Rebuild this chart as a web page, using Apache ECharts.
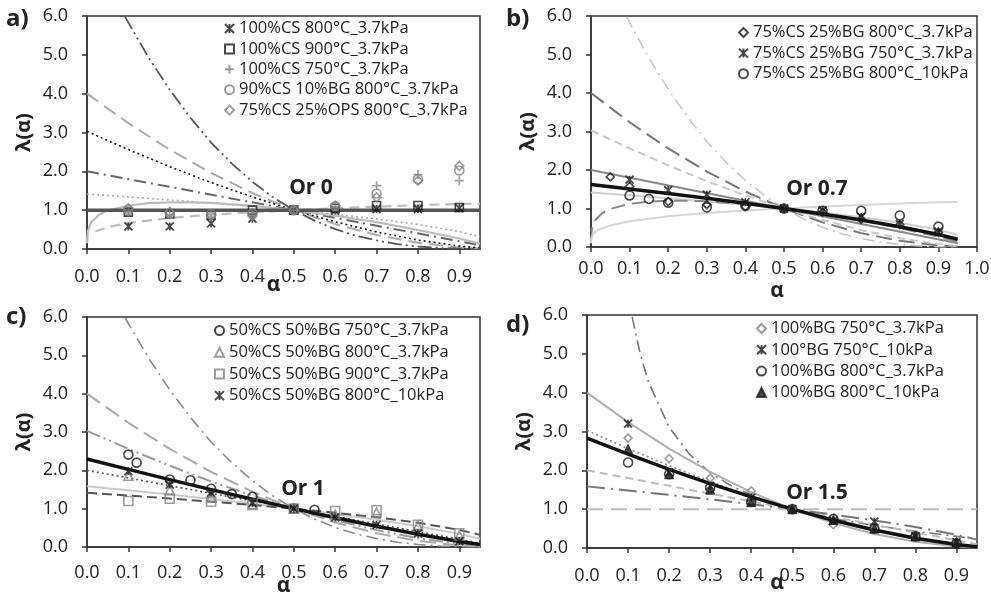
<!DOCTYPE html>
<html><head><meta charset="utf-8">
<script src="https://cdn.jsdelivr.net/npm/echarts@6/dist/echarts.min.js"></script>
<style>html,body{margin:0;padding:0;background:#fff}#c{width:991px;height:595px}</style>
</head><body><div id="c"></div><script>
// ---------- model master-plot curves ----------
const STD_X = [0,0.1,0.2,0.3,0.4,0.5,0.6,0.7,0.8,0.9,0.95];
const F3_X = [0.092,0.1,0.15,0.2,0.25,0.3,0.35,0.4,0.45,0.5,0.55,0.6,0.65,0.7,0.75,0.8,0.85,0.9,0.95];
const F3_Y = [5.98,5.83,4.91,4.1,3.38,2.74,2.2,1.73,1.33,1.0,0.73,0.51,0.34,0.22,0.125,0.064,0.027,0.008,0.001];
const D2_X = [0.11,0.13,0.15,0.2,0.25,0.3,0.35,0.4,0.45,0.5,0.6,0.7,0.8,0.9,0.95];
const D2_Y = [5.95,4.98,4.27,3.11,2.41,1.94,1.61,1.36,1.16,1.0,0.76,0.58,0.43,0.30,0.23];
const F2_Y  = [4,3.24,2.56,1.96,1.44,1,0.64,0.36,0.16,0.04,0.01];
const F16_Y = [3.03,2.56,2.12,1.71,1.34,1.0,0.70,0.44,0.23,0.076,0.025];
const F1_X = [0,0.5,0.95];
const F1_Y = [2,1,0.1];
const R2_Y  = [1.414,1.342,1.265,1.183,1.095,1,0.894,0.775,0.632,0.447,0.316];
const R3_Y  = [1.587,1.48,1.368,1.253,1.129,1,0.862,0.711,0.543,0.342,0.215];
const F07_Y = [1.625,1.509,1.39,1.266,1.136,1,0.855,0.699,0.527,0.324,0.2];
const F12_Y = [2.297,2.025,1.758,1.497,1.244,1,0.765,0.542,0.333,0.145,0.063];
const F15_Y = [2.828,2.415,2.024,1.657,1.315,1,0.716,0.465,0.253,0.089,0.032];
const OR0_X = [0,0.95];
const OR0_Y = [1,1];
const AV_X = [0,0.002,0.01,0.03,0.05,0.1,0.15,0.2,0.25,0.3,0.4,0.5,0.6,0.7,0.8,0.9,0.95];
const AV_Y = [0.15,0.46,0.69,0.89,0.99,1.12,1.18,1.2,1.2,1.19,1.11,1.0,0.86,0.69,0.49,0.27,0.14];
const PW_X = [0,0.001,0.005,0.01,0.02,0.05,0.1,0.2,0.3,0.4,0.5,0.6,0.7,0.8,0.9,0.95];
const PW_Y = [0.1,0.21,0.32,0.38,0.45,0.56,0.67,0.8,0.88,0.95,1,1.05,1.09,1.13,1.16,1.17];

// ---------- experimental points ----------
const ALPHA9 = [0.1,0.2,0.3,0.4,0.5,0.6,0.7,0.8,0.9];
// panel a
const A_NAMES = ['100%CS 800°C_3.7kPa','100%CS 900°C_3.7kPa','100%CS 750°C_3.7kPa','90%CS 10%BG 800°C_3.7kPa','75%CS 25%OPS 800°C_3.7kPa'];
const A_CS800 = [0.58,0.58,0.66,0.78,1.0,0.99,1.03,1.03,1.05];
const A_CS900 = [0.95,0.9,0.87,1.0,1.0,1.05,1.12,1.12,1.07];
const A_CS750 = [0.95,0.88,0.82,0.85,1.0,1.1,1.63,1.92,1.76];
const A_BG10  = [1.0,0.93,0.9,0.92,1.0,1.1,1.43,1.8,2.02];
const A_OPS25 = [1.05,0.95,0.86,0.85,1.0,1.12,1.33,1.76,2.14];
// panel b
const B_NAMES = ['75%CS 25%BG 800°C_3.7kPa','75%CS 25%BG 750°C_3.7kPa','75%CS 25%BG 800°C_10kPa'];
const B_X1 = [0.05,0.1,0.2,0.3,0.4,0.5,0.6,0.7,0.8,0.9];
const B_Y1 = [1.82,1.57,1.18,1.1,1.05,1.0,0.9,0.72,0.58,0.38];
const B_Y2 = [1.75,1.48,1.36,1.16,1.0,0.95,0.78,0.6,0.4];
const B_X3 = [0.1,0.15,0.2,0.3,0.4,0.5,0.6,0.7,0.8,0.9];
const B_Y3 = [1.34,1.25,1.15,1.03,1.07,1.0,0.94,0.94,0.82,0.53];
// panel c
const C_NAMES = ['50%CS 50%BG 750°C_3.7kPa','50%CS 50%BG 800°C_3.7kPa','50%CS 50%BG 900°C_3.7kPa','50%CS 50%BG 800°C_10kPa'];
const C_X1 = [0.1,0.12,0.2,0.25,0.3,0.35,0.4,0.5,0.55];
const C_Y1 = [2.41,2.2,1.76,1.74,1.52,1.38,1.31,1.0,0.97];
const C_Y2 = [1.86,1.48,1.3,1.1,1.0,0.85,0.9,0.55,0.3];
const C_Y3 = [1.2,1.26,1.18,1.12,1.0,0.94,0.96,0.58,0.36];
const C_Y4 = [1.98,1.63,1.42,1.15,1.0,0.77,0.58,0.35,0.15];
// panel d
const D_NAMES = ['100%BG 750°C_3.7kPa','100°BG 750°C_10kPa','100%BG 800°C_3.7kPa','100%BG 800°C_10kPa'];
const D_Y1 = [2.83,2.3,1.8,1.47,1.0,0.6,0.5,0.3,0.15];
const D_Y2 = [3.2,1.95,1.6,1.3,1.0,0.7,0.68,0.3,0.15];
const D_Y3 = [2.2,1.9,1.55,1.2,1.0,0.75,0.5,0.3,0.12];
const D_Y4 = [2.55,1.9,1.5,1.18,1.0,0.72,0.5,0.3,0.15];

const Y_TICKS = [0,1,2,3,4,5,6];
const ORDER_LABELS = ['Or 0','Or 0.7','Or 1','Or 1.5'];
const PANEL_LABELS = ['a)','b)','c)','d)'];

// ---------- helpers ----------
const FONT = "'Open Sans', 'DejaVu Sans', sans-serif";
const ASTER = 'path://M0,0L10,10M10,0L0,10M5,0L5,10';
const PLUS = 'path://M5,0L5,10M0,5L10,5';
const DOT = [2,3], DASH = [14,7], SDASH = [8,5], DASHDOT = [12,5,2,5], DASHDOT2 = [14,4,2,4,2,4];
function pairs(xs, ys){ return xs.map((x,i)=>[x, ys[i]]); }
function ln(i, xs, ys, color, width, type, z){
  return {type:'line', xAxisIndex:i, yAxisIndex:i, data:pairs(xs,ys), showSymbol:false, symbol:'none',
    smooth:false, silent:true, z:z||2,
    lineStyle:{color:color, width:width, type:type||'solid', join:'round'}};
}
function sc(i, name, xs, ys, symbol, size, fill, stroke, bw){
  return {type:'scatter', name:name, xAxisIndex:i, yAxisIndex:i, data:pairs(xs,ys), symbol:symbol, symbolSize:size,
    itemStyle:{color:fill, borderColor:stroke, borderWidth:bw||1.4}, z:5, silent:true};
}
const NONE = 'rgba(0,0,0,0)';
const BLK = '#1a1a1a', GRY = '#858585';

const grids = [
  {left:87, top:16, width:393, height:233},
  {left:591, top:16, width:386, height:231},
  {left:87, top:317, width:393, height:230},
  {left:587, top:315, width:390, height:233}
];
const xmax = [0.95, 1.0, 0.95, 0.95];
const xNameGap = [26, 34, 29, 25];
const xNameShift = [20, 14, 0, 10];
const xLabelMargin = [19, 13, 17, 19];

const xAxes = grids.map((g,i)=>({
  gridIndex:i, type:'value', min:0, max:xmax[i], interval:0.1,
  name:'α', nameLocation:'middle', nameGap:xNameGap[i], nameMoveOverlap:false,
  nameTextStyle:{fontFamily:FONT, fontSize:21, fontWeight:'bold', color:'#222', padding:[0,xNameShift[i],0,0]},
  axisLine:{show:true, lineStyle:{color:'#333', width:1.5}},
  axisTick:{show:true, inside:false, length:5, lineStyle:{color:'#333', width:1.5}},
  axisLabel:{fontFamily:FONT, fontSize:18, color:'#222', margin:xLabelMargin[i], showMaxLabel: i===1,
    formatter:v=>v.toFixed(1)},
  splitLine:{show:false}
}));
const yAxes = grids.map((g,i)=>({
  gridIndex:i, type:'value', min:Y_TICKS[0], max:Y_TICKS[Y_TICKS.length-1], interval:1,
  name:'λ(α)', nameLocation:'middle', nameGap:53, nameMoveOverlap:false,
  nameTextStyle:{fontFamily:FONT, fontSize:20, fontWeight:'bold', color:'#222'},
  axisLine:{show:true, lineStyle:{color:'#333', width:1.5}},
  axisTick:{show:true, inside:false, length:5, lineStyle:{color:'#333', width:1.5}},
  axisLabel:{fontFamily:FONT, fontSize:18, color:'#222', margin:19, formatter:v=>v.toFixed(1)},
  splitLine:{show:false}
}));

const series = [];
// panel a (0)
series.push(ln(0, STD_X, F2_Y, '#ababab', 2, DASH));
series.push(ln(0, STD_X, F16_Y, '#111', 1.6, DOT));
series.push(ln(0, F1_X, F1_Y, '#666', 2, DASHDOT));
series.push(ln(0, STD_X, R2_Y, '#aaa', 1.6, DOT));
series.push(ln(0, F3_X, F3_Y, '#555', 1.8, DASHDOT2));
series.push(ln(0, AV_X, AV_Y, '#bdbdbd', 2.2, 'solid'));
series.push(ln(0, PW_X.slice(4), PW_Y.slice(4), '#bdbdbd', 2.2, [10,6]));
series.push(ln(0, OR0_X, OR0_Y, '#555', 3.5, 'solid', 3));
series.push(sc(0, A_NAMES[0], ALPHA9, A_CS800, ASTER, 8, NONE, BLK, 1.8));
series.push(sc(0, A_NAMES[1], ALPHA9, A_CS900, 'rect', 8, NONE, BLK, 1.6));
series.push(sc(0, A_NAMES[2], ALPHA9, A_CS750, PLUS, 9, NONE, GRY, 1.6));
series.push(sc(0, A_NAMES[3], ALPHA9, A_BG10, 'circle', 9, NONE, GRY, 1.6));
series.push(sc(0, A_NAMES[4], ALPHA9, A_OPS25, 'diamond', 9, NONE, GRY, 1.6));
// panel b (1)
series.push(ln(1, F3_X, F3_Y, '#c8c8c8', 1.6, DASHDOT));
series.push(ln(1, STD_X, F2_Y, '#777', 2, [16,7]));
series.push(ln(1, STD_X, F16_Y, '#c8c8c8', 2, SDASH));
series.push(ln(1, F1_X, F1_Y, '#888', 2, 'solid'));
series.push(ln(1, STD_X, R2_Y, '#cfcfcf', 2, 'solid'));
series.push(ln(1, AV_X, AV_Y, '#888', 2, [14,7]));
series.push(ln(1, PW_X, PW_Y, '#d6d6d6', 2, 'solid'));
series.push(ln(1, STD_X, F07_Y, '#111', 3.5, 'solid', 3));
series.push(sc(1, B_NAMES[0], B_X1, B_Y1, 'diamond', 8, NONE, BLK, 1.6));
series.push(sc(1, B_NAMES[1], ALPHA9, B_Y2, ASTER, 8, NONE, BLK, 1.8));
series.push(sc(1, B_NAMES[2], B_X3, B_Y3, 'circle', 9, NONE, BLK, 1.6));
// panel c (2)
series.push(ln(2, F3_X, F3_Y, '#8a8a8a', 1.6, DASHDOT));
series.push(ln(2, STD_X, F2_Y, '#aaa', 2, [16,7]));
series.push(ln(2, STD_X, F16_Y, '#9a9a9a', 2, DASHDOT2));
series.push(ln(2, F1_X, F1_Y, '#555', 1.6, DOT));
series.push(ln(2, STD_X, R3_Y, '#cacaca', 2, 'solid'));
series.push(ln(2, STD_X, R2_Y, '#555', 2, [10,5]));
series.push(ln(2, STD_X, F12_Y, '#111', 3.5, 'solid', 3));
series.push(sc(2, C_NAMES[0], C_X1, C_Y1, 'circle', 9, NONE, BLK, 1.6));
series.push(sc(2, C_NAMES[1], ALPHA9, C_Y2, 'triangle', 9, NONE, GRY, 1.6));
series.push(sc(2, C_NAMES[2], ALPHA9, C_Y3, 'rect', 9, NONE, GRY, 1.6));
series.push(sc(2, C_NAMES[3], ALPHA9, C_Y4, ASTER, 8, NONE, BLK, 1.8));
// panel d (3)
series.push(ln(3, D2_X, D2_Y, '#777', 1.6, DASHDOT));
series.push(ln(3, STD_X, F2_Y, '#b0b0b0', 2, 'solid'));
series.push(ln(3, STD_X, F16_Y, '#888', 1.6, DOT));
series.push(ln(3, F1_X, F1_Y, '#bdbdbd', 2, SDASH));
series.push(ln(3, STD_X, R3_Y, '#777', 2, [18,6,2,6]));
series.push(ln(3, OR0_X, OR0_Y, '#bdbdbd', 2, [16,8]));
series.push(ln(3, STD_X, F15_Y, '#111', 3.5, 'solid', 3));
series.push(sc(3, D_NAMES[0], ALPHA9, D_Y1, 'diamond', 8, NONE, GRY, 1.6));
series.push(sc(3, D_NAMES[1], ALPHA9, D_Y2, ASTER, 8, NONE, BLK, 1.8));
series.push(sc(3, D_NAMES[2], ALPHA9, D_Y3, 'circle', 9, NONE, BLK, 1.6));
series.push(sc(3, D_NAMES[3], ALPHA9, D_Y4, 'triangle', 9, BLK, BLK, 1));

function legend(left, top, names, gap){
  return {left:left, top:top, orient:'vertical', padding:0, itemGap:gap, itemWidth:9, itemHeight:9,
    selectedMode:false, data:names,
    textStyle:{fontFamily:FONT, fontSize:16.5, color:'#222', lineHeight:17}};
}

const orderPos = [[311,188],[817,189],[303,489],[817,493]];
const panelPos = [[6,7],[506,7],[6,305],[506,313]];
const graphic = [];
ORDER_LABELS.forEach((t,i)=>graphic.push({type:'text', x:orderPos[i][0], y:orderPos[i][1],
  style:{text:t, fontFamily:FONT, fontSize:21, fontWeight:'bold', fill:'#222', align:'center', verticalAlign:'middle'}, z:10}));
PANEL_LABELS.forEach((t,i)=>graphic.push({type:'text', x:panelPos[i][0], y:panelPos[i][1],
  style:{text:t, fontFamily:FONT, fontSize:24, fontWeight:'bold', fill:'#222'}, z:10}));

const chart = echarts.init(document.getElementById('c'), null, {renderer:'canvas'});
chart.setOption({
  animation:false,
  backgroundColor:'#fff',
  grid: grids.map(g=>Object.assign({show:true, borderColor:'#333', borderWidth:1.5, backgroundColor:'transparent',
    containLabel:false, outerBoundsMode:'none'}, g)),
  xAxis: xAxes, yAxis: yAxes,
  legend:[legend(224,20,A_NAMES,3.4), legend(738,24,B_NAMES,3.6), legend(214,322,C_NAMES,4.7), legend(756,320,D_NAMES,4.3)],
  graphic: graphic,
  series: series
});
</script></body></html>
